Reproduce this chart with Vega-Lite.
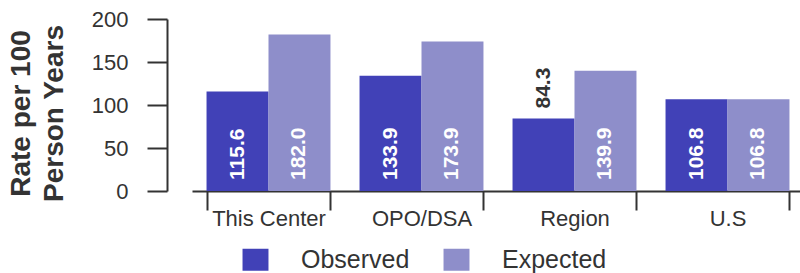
{
  "$schema": "https://vega.github.io/schema/vega-lite/v6.json",
  "width": 612,
  "height": 172,
  "autosize": {"type": "none"},
  "padding": {"left": 192, "top": 19, "right": -4, "bottom": 82},
  "config": {"font": "Liberation Sans", "view": {"stroke": null}},
  "data": {
    "values": [
      {"group": "This Center", "series": "Observed", "value": 115.6},
      {"group": "This Center", "series": "Expected", "value": 182.0},
      {"group": "OPO/DSA", "series": "Observed", "value": 133.9},
      {"group": "OPO/DSA", "series": "Expected", "value": 173.9},
      {"group": "Region", "series": "Observed", "value": 84.3},
      {"group": "Region", "series": "Expected", "value": 139.9},
      {"group": "U.S", "series": "Observed", "value": 106.8},
      {"group": "U.S", "series": "Expected", "value": 106.8}
    ]
  },
  "encoding": {
    "x": {
      "field": "group",
      "type": "nominal",
      "sort": ["This Center", "OPO/DSA", "Region", "U.S"],
      "scale": {"paddingInner": 0.19, "paddingOuter": 0.095},
      "axis": {
        "title": null,
        "labelAngle": 0,
        "tickSize": 19,
        "labelPadding": -2,
        "labelFontSize": 22,
        "labelColor": "#333333",
        "domainColor": "#333333",
        "domainWidth": 2,
        "tickColor": "#333333",
        "tickWidth": 2,
        "tickBand": "extent"
      }
    },
    "xOffset": {
      "field": "series",
      "type": "nominal",
      "sort": ["Observed", "Expected"],
      "scale": {"paddingInner": 0, "paddingOuter": 0}
    }
  },
  "layer": [
    {
      "mark": {"type": "bar"},
      "encoding": {
        "y": {
          "field": "value",
          "type": "quantitative",
          "scale": {"domain": [0, 200], "nice": false},
          "axis": {
            "title": ["Rate per 100", "Person Years"],
            "offset": 25,
            "values": [0, 50, 100, 150, 200],
            "grid": false,
            "tickSize": 20,
            "labelPadding": 19,
            "labelFontSize": 22,
            "labelColor": "#333333",
            "domainColor": "#333333",
            "domainWidth": 2,
            "tickColor": "#333333",
            "tickWidth": 2,
            "titleFontSize": 28,
            "titleFontWeight": "bold",
            "titleColor": "#333333",
            "titleLineHeight": 33,
            "titleAngle": 270,
            "titleAlign": "center",
            "titleBaseline": "alphabetic",
            "titleX": -138,
            "titleY": 94
          }
        },
        "color": {
          "field": "series",
          "type": "nominal",
          "sort": ["Observed", "Expected"],
          "scale": {"domain": ["Observed", "Expected"], "range": ["#4141B7", "#8E8ECA"]},
          "legend": {
            "orient": "none",
            "legendX": 51,
            "legendY": 228,
            "direction": "horizontal",
            "title": null,
            "symbolType": "M-1.18,-1H1.18V1H-1.18Z",
            "symbolSize": 484,
            "symbolStrokeWidth": 0,
            "symbolOpacity": 1,
            "labelFontSize": 25,
            "labelColor": "#333333",
            "labelOffset": 33,
            "columnPadding": 33,
            "padding": 0
          }
        }
      }
    },
    {
      "transform": [{"filter": "datum.value >= 100"}],
      "mark": {"type": "text", "angle": 270, "align": "left", "baseline": "middle", "dx": 11, "fontSize": 21, "fontWeight": "bold", "color": "white"},
      "encoding": {
        "y": {"datum": 0, "type": "quantitative"},
        "text": {"field": "value", "type": "quantitative", "format": ".1f"}
      }
    },
    {
      "transform": [{"filter": "datum.value < 100"}],
      "mark": {"type": "text", "angle": 270, "align": "left", "baseline": "middle", "dx": 10, "fontSize": 21, "fontWeight": "bold", "color": "#333333"},
      "encoding": {
        "y": {"field": "value", "type": "quantitative"},
        "text": {"field": "value", "type": "quantitative", "format": ".1f"}
      }
    }
  ]
}
